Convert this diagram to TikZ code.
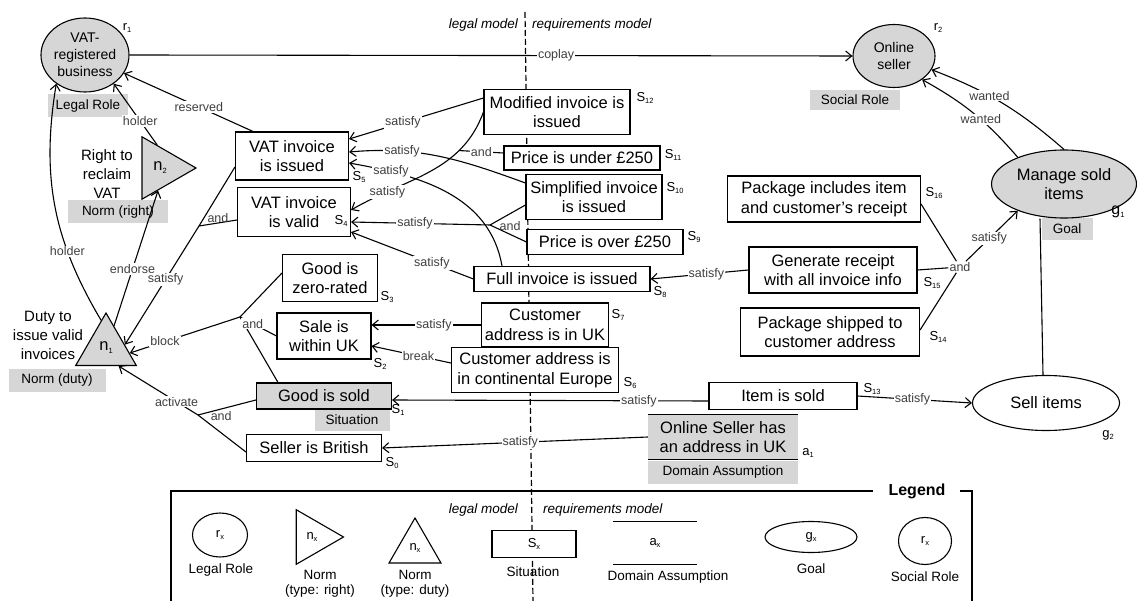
\documentclass[tikz,border=0pt]{standalone}
\usepackage{fontspec}
\setmainfont{Liberation Sans}
\usetikzlibrary{arrows.meta,shapes.geometric}
\newcommand\boxfont{\fontsize{16.5}{19.5}\selectfont}
\newcommand\typefont{\fontsize{13.5}{15}\selectfont}
\newcommand\lblfont{\fontsize{12.5}{12.5}\selectfont}
\newcommand\idfont{\fontsize{13}{13}\selectfont}
\newcommand\ident[2]{#1\raisebox{-0.35ex}{\fontsize{7.5}{7.5}\selectfont#2}}
\definecolor{shade}{gray}{0.84}
\tikzset{
  RoleStyle/.style = {ellipse, draw, line width=1.1pt, fill=shade, align=center,
                      inner sep=0pt, font=\fontsize{14}{17}\selectfont},
  NormStyle/.style = {regular polygon, regular polygon sides=3, draw, line width=1.1pt,
                      fill=shade, inner sep=0pt, font=\boxfont},
  SitStyle/.style = {rectangle, draw, line width=1.1pt, fill=white, align=center,
                     inner sep=1pt, font=\boxfont},
  AssumStyle/.style = {rectangle, fill=shade, align=center, inner sep=1pt, font=\boxfont},
  GoalStyle/.style = {ellipse, draw, line width=1.1pt, fill=white, align=center,
                      inner sep=0pt, font=\boxfont},
  TypeStyle/.style = {rectangle, fill=shade, inner sep=0pt, minimum height=23pt, font=\typefont},
  TextStyle/.style = {align=center, inner sep=0pt, font=\typefont},
  IdStyle/.style = {inner sep=0pt, font=\idfont},
  HeadStyle/.style = {inner sep=0pt, font=\fontsize{13.5}{15}\selectfont\itshape},
  LabelStyle/.style = {fill=white, inner sep=1pt, text=black!75, font=\lblfont},
  AndStyle/.style = {inner sep=1pt, text=black!75, font=\lblfont},
  EdgeStyle/.style = {line width=1.1pt},
  ArrowStyle/.style = {EdgeStyle, -{Straight Barb[length=6pt,width=10pt]}},
  FrameStyle/.style = {line width=1.3pt},
  DividerStyle/.style = {line width=1.2pt, dash pattern=on 6pt off 3pt}
}

\begin{document}
\begin{tikzpicture}[x=1pt, y=-1pt]
  \useasboundingbox (0,0) rectangle (1137,601);
  \draw[DividerStyle] (525,12) -- (533,601);
  \node[HeadStyle, anchor=east] (legal) at (518,25) {legal model};
  \node[HeadStyle, anchor=west] (req) at (532,25) {requirements model};

  % roles and norms
  \node[TypeStyle, minimum width=80pt] (r1type) at (88,106) {Legal Role};
  \node[RoleStyle, minimum width=83pt, minimum height=74pt] (r1) at (85,55) {VAT-\\registered\\business};
  \node[IdStyle] (r1id) at (127,28) {\ident{r}{1}};
  \node[TypeStyle, minimum width=90pt, minimum height=20pt] (r2type) at (855,100) {Social Role};
  \node[RoleStyle, minimum width=82pt, minimum height=63pt] (r2) at (894,56) {Online\\seller};
  \node[IdStyle] (r2id) at (938,28) {\ident{r}{2}};
  \node[TypeStyle, minimum width=100pt] (n2type) at (118,212) {Norm (right)};
  \node[NormStyle, minimum size=72pt, shape border rotate=-90] (n2) at (160,168) {\ident{n}{2}};
  \node[TextStyle, font=\fontsize{15}{19}\selectfont] (n2text) at (107,174) {Right to\\reclaim\\VAT};
  \node[TypeStyle, minimum width=97pt] (n1type) at (57,380) {Norm (duty)};
  \node[NormStyle, minimum size=70pt] (n1) at (106,348) {\ident{n}{1}};
  \node[TextStyle, font=\fontsize{15}{19}\selectfont] (n1text) at (48,335) {Duty to\\issue valid\\invoices};

  % situations
  \node[SitStyle, minimum width=113pt, minimum height=48pt] (s5) at (292,156) {VAT invoice\\is issued};
  \node[IdStyle] (s5id) at (359,177) {\ident{S}{5}};
  \node[SitStyle, minimum width=113pt, minimum height=49pt] (s4) at (294,212) {VAT invoice\\is valid};
  \node[IdStyle] (s4id) at (341,221) {\ident{S}{4}};
  \node[SitStyle, minimum width=95pt, minimum height=47pt] (s3) at (330,278) {Good is\\zero-rated};
  \node[IdStyle] (s3id) at (387,297) {\ident{S}{3}};
  \node[SitStyle, minimum width=94pt, minimum height=46pt] (s2) at (324,336) {Sale is\\within UK};
  \node[IdStyle] (s2id) at (380,364) {\ident{S}{2}};
  \node[TypeStyle, minimum width=75pt, minimum height=21pt] (s1type) at (352,420) {Situation};
  \node[SitStyle, fill=shade, minimum width=135pt, minimum height=26pt] (s1) at (324,396) {Good is sold};
  \node[IdStyle] (s1id) at (398,410) {\ident{S}{1}};
  \node[SitStyle, minimum width=135pt, minimum height=27pt] (s0) at (314,448) {Seller is British};
  \node[IdStyle] (s0id) at (392,463) {\ident{S}{0}};
  \node[SitStyle, minimum width=146pt, minimum height=45pt] (s12) at (557,112) {Modified invoice is\\issued};
  \node[IdStyle] (s12id) at (645,98) {\ident{S}{12}};
  \node[SitStyle, minimum width=156pt, minimum height=24pt] (s11) at (582,158) {Price is under £250};
  \node[IdStyle] (s11id) at (673,155) {\ident{S}{11}};
  \node[SitStyle, minimum width=136pt, minimum height=45pt] (s10) at (594,197) {Simplified invoice\\is issued};
  \node[IdStyle] (s10id) at (675,188) {\ident{S}{10}};
  \node[SitStyle, minimum width=156pt, minimum height=25pt] (s9) at (605,242) {Price is over £250};
  \node[IdStyle] (s9id) at (694,237) {\ident{S}{9}};
  \node[SitStyle, minimum width=176pt, minimum height=25pt] (s8) at (562,279) {Full invoice is issued};
  \node[IdStyle] (s8id) at (660,292) {\ident{S}{8}};
  \node[SitStyle, minimum width=127pt, minimum height=44pt] (s7) at (545,325) {Customer\\address is in UK};
  \node[IdStyle] (s7id) at (618,315) {\ident{S}{7}};
  \node[SitStyle, minimum width=167pt, minimum height=45pt] (s6) at (535,370) {Customer address is\\in continental Europe};
  \node[IdStyle] (s6id) at (630,383) {\ident{S}{6}};
  \node[SitStyle, minimum width=193pt, minimum height=46pt] (s16) at (824,199) {Package includes item\\and customer's receipt};
  \node[IdStyle] (s16id) at (934,193) {\ident{S}{16}};
  \node[SitStyle, minimum width=168pt, minimum height=46pt] (s15) at (833,270) {Generate receipt\\with all invoice info};
  \node[IdStyle] (s15id) at (932,283) {\ident{S}{15}};
  \node[SitStyle, minimum width=179pt, minimum height=48pt] (s14) at (830,332) {Package shipped to\\customer address};
  \node[IdStyle] (s14id) at (938,337) {\ident{S}{14}};
  \node[SitStyle, minimum width=148pt, minimum height=27pt] (s13) at (783,396) {Item is sold};
  \node[IdStyle] (s13id) at (872,389) {\ident{S}{13}};
  \node[TypeStyle, minimum width=150pt] (a1type) at (723,472) {Domain Assumption};
  \node[AssumStyle, minimum width=150pt, minimum height=45pt] (a1) at (723,437) {Online Seller has\\an address in UK};
  \draw[EdgeStyle] (a1.north west) -- (a1.north east) (a1.south west) -- (a1.south east);
  \node[IdStyle] (a1id) at (808,453) {\ident{a}{1}};

  % goals
  \node[TypeStyle, minimum width=51pt, minimum height=22pt] (g1type) at (1067,229) {Goal};
  \node[GoalStyle, fill=shade, minimum width=145pt, minimum height=68pt] (g1) at (1064,184) {Manage sold\\items};
  \node[IdStyle, font=\fontsize{16}{16}\selectfont] (g1id) at (1118,212) {\ident{g}{1}};
  \node[GoalStyle, minimum width=147pt, minimum height=55pt] (g2) at (1046,403) {Sell items};
  \node[IdStyle] (g2id) at (1108,435) {\ident{g}{2}};

  % junctions
  \coordinate (andA) at (199,226);
  \coordinate (andB) at (240,317);
  \coordinate (andC) at (198,415);
  \coordinate (andD) at (490,225);
  \node[LabelStyle] (andE) at (960,267) {and};

  % links
  \draw[ArrowStyle] (r1.east) -- node[LabelStyle, pos=0.59] {coplay} (r2.west);
  \draw[ArrowStyle] ([xshift=-39pt]s5.north) -- node[LabelStyle, pos=0.42] {reserved} (r1.-25);
  \draw[ArrowStyle] (n2.97) -- node[LabelStyle, pos=0.39] {holder} (r1.-45);
  \draw[ArrowStyle] (n1.100) to[bend left=20] node[LabelStyle, pos=0.3] {holder} (r1.-135);
  \draw[ArrowStyle] (n1.70) -- node[LabelStyle, pos=0.42] {endorse} (n2.265);
  \draw[ArrowStyle] ([yshift=-11pt]s5.west) -- (andA) -- node[LabelStyle, pos=0.45] {satisfy} (n1.10);
  \draw[EdgeStyle] ([yshift=-8pt]s4.west) -- node[AndStyle, above=-1pt] {and} (andA);
  \draw[EdgeStyle] ([yshift=5pt]s3.west) -- (andB) -- ([xshift=-46pt]s1.north);
  \draw[EdgeStyle] (s2.west) -- node[LabelStyle, pos=0.65] {and} (andB);
  \draw[ArrowStyle] (andB) -- node[LabelStyle, pos=0.68] {block} (n1.-12);
  \draw[EdgeStyle] ([yshift=-4pt]s1.west) -- node[AndStyle, pos=0.6, below=1pt] {and} (andC);
  \draw[EdgeStyle] ([yshift=-4pt]s0.west) -- (andC);
  \draw[ArrowStyle] (andC) -- node[LabelStyle, pos=0.27] {activate} (n1.-55);
  \draw[ArrowStyle] ([yshift=14pt]s12.west) -- node[LabelStyle, pos=0.6] {satisfy} ([yshift=17pt]s5.east);
  \draw[ArrowStyle] ([yshift=14pt]s10.west) to[out=160, in=5] node[LabelStyle, pos=0.72] {satisfy} ([yshift=4pt]s5.east);
  \draw[ArrowStyle] ([xshift=-60pt]s8.north) to[out=100, in=-10] node[LabelStyle, pos=0.8] {satisfy} ([yshift=-7pt]s5.east);
  \draw[ArrowStyle] (s12.west) to[out=-110, in=30] coordinate[pos=0.27] (andF)
    node[LabelStyle, pos=0.78] {satisfy} ([yshift=2pt]s4.east);
  \draw[EdgeStyle] ([yshift=5pt]s11.west) -- node[LabelStyle, pos=0.5] {and} (andF);
  \draw[EdgeStyle] ([yshift=-8pt]s10.west) -- (andD);
  \draw[EdgeStyle] (s9.west) -- node[AndStyle, pos=0.45, above=2pt] {and} (andD);
  \draw[ArrowStyle] (andD) -- node[LabelStyle, pos=0.54] {satisfy} ([yshift=-10pt]s4.east);
  \draw[ArrowStyle] (s8.west) -- node[LabelStyle, pos=0.34] {satisfy} ([yshift=-20pt]s4.east);
  \draw[ArrowStyle] (s7.west) -- node[LabelStyle, pos=0.43] {satisfy} (s2.east |- s7.west);
  \draw[ArrowStyle] ([yshift=7pt]s6.west) -- node[LabelStyle, pos=0.41] {break} ([yshift=-10pt]s2.east);
  \draw[ArrowStyle] ([yshift=-5pt]s13.west) -- node[LabelStyle, pos=0.22] {satisfy} ([yshift=-4pt]s1.east);
  \draw[ArrowStyle] (s13.east) -- node[LabelStyle, pos=0.48] {satisfy} (g2.west);
  \draw[ArrowStyle] (a1.west) -- node[LabelStyle, pos=0.48] {satisfy} (s0.east);
  \draw[ArrowStyle] (s15.west) -- node[LabelStyle, pos=0.43] {satisfy} (s8.east);
  \draw[EdgeStyle] ([yshift=-5pt]s16.east) -- (andE);
  \draw[EdgeStyle] (s15.east) -- (andE);
  \draw[EdgeStyle] ([yshift=2pt]s14.east) -- (andE);
  \draw[ArrowStyle] (andE) -- node[LabelStyle, pos=0.45] {satisfy} (g1.210);
  \draw[ArrowStyle] (g1.north) to[bend right=10] node[LabelStyle, pos=0.6] {wanted} (r2.-20);
  \draw[ArrowStyle] (g1.150) to[bend right=10] node[LabelStyle, pos=0.42] {wanted} (r2.-40);
  \draw[EdgeStyle] ([xshift=-24pt]g1.south) -- ([xshift=-3pt]g2.north);

  % legend
  \draw[FrameStyle] (873,491) -- (171,491) -- (171,601);
  \draw[FrameStyle] (960,491) -- (972,491) -- (972,601);
  \node[font=\fontsize{16}{16}\selectfont\bfseries, inner sep=0pt] (legend) at (917,491) {Legend};
  \node[HeadStyle, anchor=east] (legal2) at (518,510) {legal model};
  \node[HeadStyle, anchor=west] (req2) at (543,510) {requirements model};
  \node[RoleStyle, fill=white, font=\idfont, minimum width=55pt, minimum height=44pt] (kr1) at (220,535) {\ident{r}{x}};
  \node[TextStyle] (kr1text) at (221,570) {Legal Role};
  \node[NormStyle, fill=white, font=\idfont, minimum size=63pt, shape border rotate=-90] (kn2) at (312,537) {\ident{n}{x}};
  \node[TextStyle] (kn2text) at (320,584) {Norm\\(type: right)};
  \node[NormStyle, fill=white, font=\idfont, minimum size=60pt] (kn1) at (415,548) {\ident{n}{x}};
  \node[TextStyle] (kn1text) at (415,584) {Norm\\(type: duty)};
  \node[SitStyle, font=\idfont, minimum width=84pt, minimum height=27pt] (ks) at (534,544) {\ident{S}{x}};
  \node[TextStyle] (kstext) at (533,572) {Situation};
  \node[AssumStyle, fill=white, font=\idfont, minimum width=84pt, minimum height=43pt] (ka) at (655,543) {\ident{a}{x}};
  \draw[EdgeStyle] (ka.north west) -- (ka.north east) (ka.south west) -- (ka.south east);
  \node[TextStyle] (katext) at (668,577) {Domain Assumption};
  \node[GoalStyle, font=\idfont, minimum width=92pt, minimum height=31pt] (kg) at (811,537) {\ident{g}{x}};
  \node[TextStyle] (kgtext) at (811,569) {Goal};
  \node[RoleStyle, fill=white, font=\idfont, minimum width=53pt, minimum height=47pt] (kr2) at (925,541) {\ident{r}{x}};
  \node[TextStyle] (kr2text) at (925,577) {Social Role};
\end{tikzpicture}
\end{document}
